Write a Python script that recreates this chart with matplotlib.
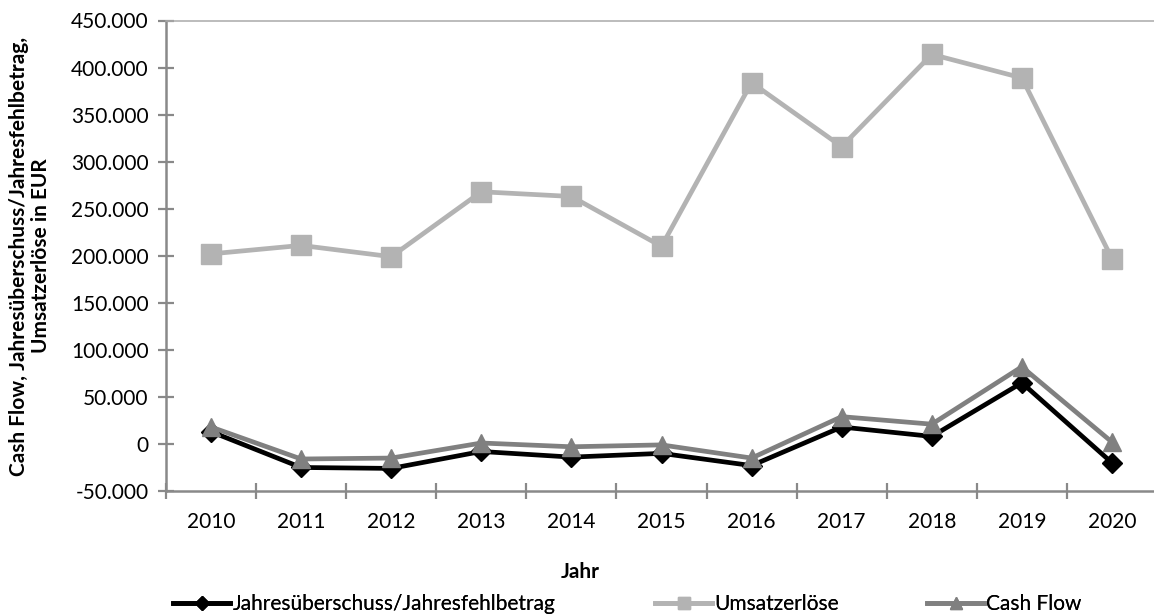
"""
Cash Flow, Jahresüberschuss/Jahresfehlbetrag und Umsatzerlöse 2010-2020
Line chart in Excel style, saved as out.png
"""

import matplotlib
matplotlib.use('Agg')
import matplotlib.pyplot as plt
import matplotlib.ticker as mticker
from matplotlib.lines import Line2D
import numpy as np

# Data (EUR)
years = ['2010', '2011', '2012', '2013', '2014', '2015',
         '2016', '2017', '2018', '2019', '2020']
jahresueberschuss = [13000, -25000, -26000, -8000, -14000, -10000,
                     -23000, 18000, 8000, 65000, -20000]
umsatzerloese = [202000, 211000, 199000, 268000, 263000, 210000,
                 384000, 316000, 414000, 389000, 197000]
cash_flow = [18000, -16000, -15000, 1000, -3000, -1000,
             -15000, 29000, 21000, 82000, 2000]

series_names = ['Jahresüberschuss/Jahresfehlbetrag', 'Umsatzerlöse', 'Cash Flow']

plt.rcParams['font.family'] = ['Lato', 'DejaVu Sans']

axis_grey = '#898989'
black = '#000000'
light_grey = '#b3b3b3'
mid_grey = '#808080'

fig = plt.figure(figsize=(11.54, 6.16), dpi=100)
ax = fig.add_axes([166 / 1154, 125 / 616, 991 / 1154, 470.5 / 616])

x_pos = np.arange(len(years))

ax.plot(x_pos, jahresueberschuss, color=black, lw=3.4, marker='D', ms=10,
        label=series_names[0], zorder=3)
ax.plot(x_pos, umsatzerloese, color=light_grey, lw=3.4, marker='s', ms=14,
        label=series_names[1], zorder=3)
ax.plot(x_pos, cash_flow, color=mid_grey, lw=3.4, marker='^', ms=13,
        label=series_names[2], zorder=4)

# Axes limits and ticks
ax.set_xlim(-0.5, len(years) - 0.5)
ax.set_ylim(-50000, 450000)
ax.set_yticks(np.arange(-50000, 450001, 50000))
ax.yaxis.set_major_formatter(
    mticker.FuncFormatter(lambda v, p: f'{v:,.0f}'.replace(',', '.')))

ax.set_xticks(np.arange(-0.5, len(years), 1.0))
ax.set_xticklabels([])
ax.set_xticks(x_pos, minor=True)
ax.set_xticklabels(years, minor=True)

ax.tick_params(axis='both', which='major', direction='inout', length=11,
               width=1.6, color=axis_grey, labelsize=15)
ax.tick_params(axis='y', pad=7)
ax.tick_params(axis='x', which='minor', length=0, pad=15, labelsize=15)

for side in ['left', 'bottom']:
    ax.spines[side].set_color(axis_grey)
    ax.spines[side].set_linewidth(1.8)
ax.spines['top'].set_color('#aaaaaa')
ax.spines['top'].set_linewidth(1.1)
ax.spines['right'].set_visible(False)

# Axis titles
fig.text(30 / 1154, 1 - 256 / 616,
         'Cash Flow, Jahresüberschuss/Jahresfehlbetrag,\nUmsatzerlöse in EUR',
         rotation=90, ha='center', va='center', multialignment='center',
         fontsize=15, fontweight='bold', linespacing=1.15)
fig.text(580 / 1154, 1 - 572 / 616, 'Jahr', ha='center', va='center',
         fontsize=15, fontweight='bold')

# Legend entries placed one by one like Excel does
handles = [
    Line2D([], [], color=black, lw=3.4, marker='D', ms=7),
    Line2D([], [], color=light_grey, lw=3.4, marker='s', ms=9),
    Line2D([], [], color=mid_grey, lw=3.4, marker='^', ms=9),
]
legend_x = [173, 655, 927]
for handle, name, lx in zip(handles, series_names, legend_x):
    leg = fig.legend([handle], [name], loc='center left',
                     bbox_to_anchor=(lx / 1154, 1 - 604 / 616),
                     frameon=False, fontsize=15, handlelength=2.75,
                     handletextpad=0.1, borderpad=0, borderaxespad=0)
    fig.add_artist(leg)

fig.savefig('out.png', dpi=100)
